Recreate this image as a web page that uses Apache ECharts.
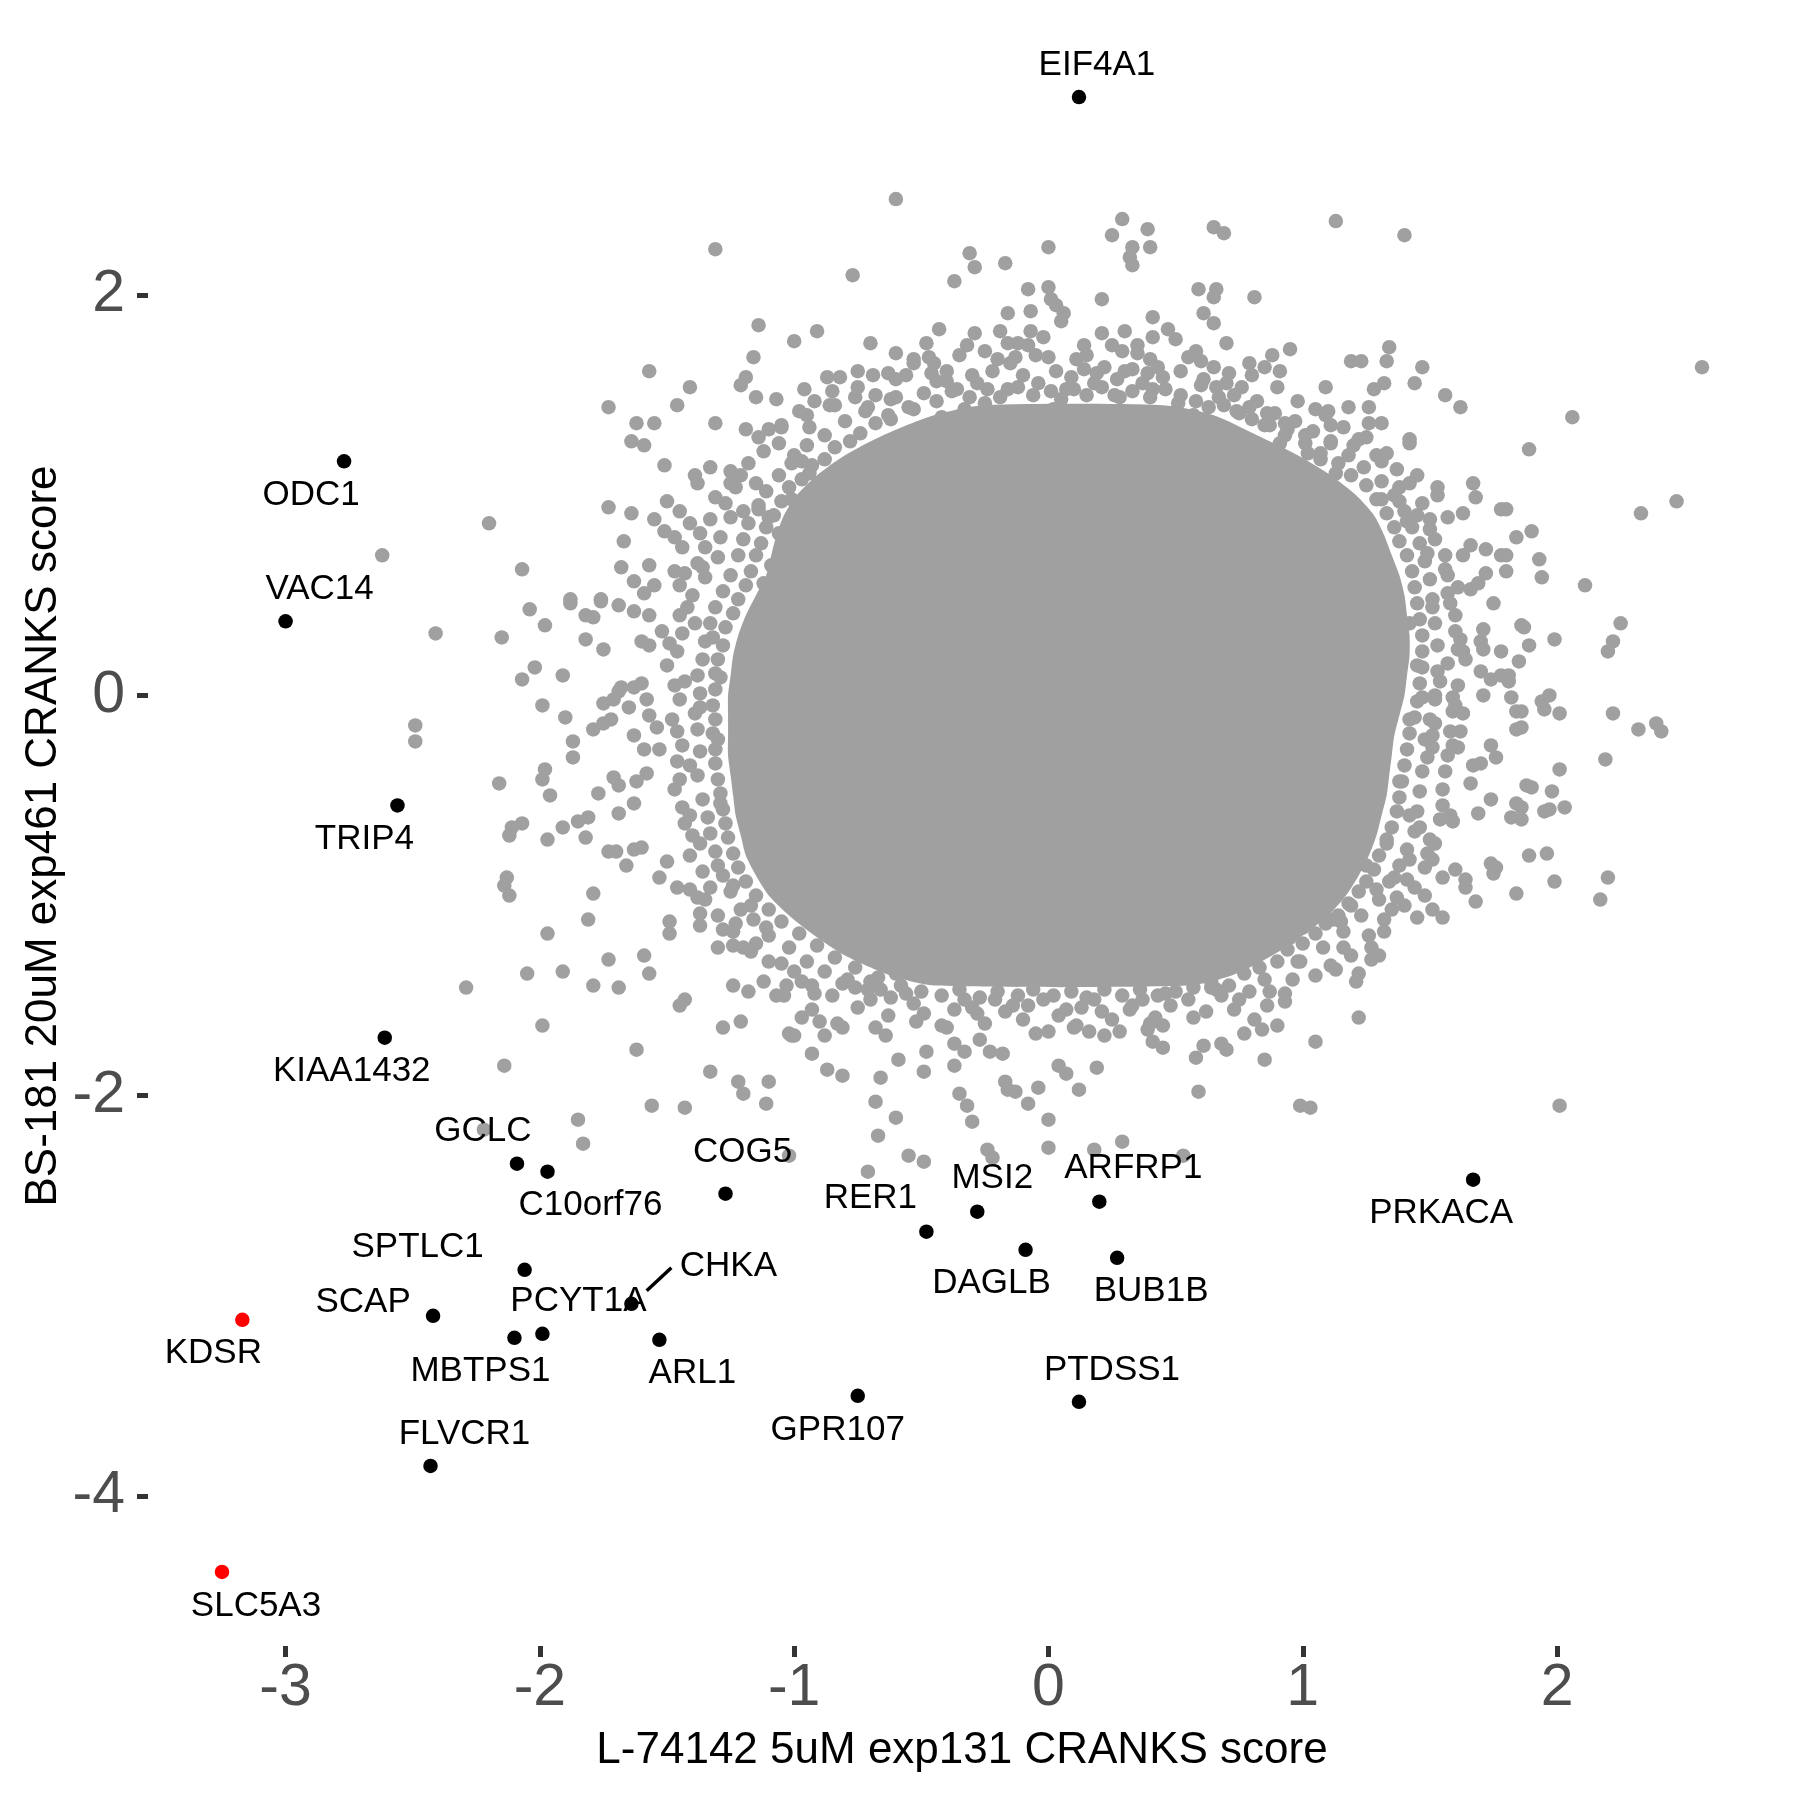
<!DOCTYPE html>
<html>
<head>
<meta charset="utf-8">
<script src="https://cdn.jsdelivr.net/npm/echarts@6/dist/echarts.min.js"></script>
<style>html,body{margin:0;padding:0;background:#fff}#c{width:1800px;height:1800px}</style>
</head>
<body>
<div id="c"></div>
<script>
// ---------- DATA ----------
const xTicks = [-3, -2, -1, 0, 1, 2];
const yTicks = [-4, -2, 0, 2];
const xTitle = 'L-74142 5uM exp131 CRANKS score';
const yTitle = 'BS-181 20uM exp461 CRANKS score';

// dense core outline (y row, left x, right x)
const coreY     = [1.45, 1.4, 1.3, 1.2, 1.1, 1.0, 0.9, 0.8, 0.7, 0.6, 0.5, 0.4, 0.3, 0.2, 0.1, 0.0, -0.1, -0.2, -0.3, -0.4, -0.5, -0.6, -0.7, -0.8, -0.9, -1.0, -1.1, -1.2, -1.3, -1.4, -1.45];
const coreLeft  = [-0.25, -0.45, -0.65, -0.80, -0.91, -0.99, -1.04, -1.07, -1.09, -1.11, -1.15, -1.19, -1.22, -1.24, -1.25, -1.26, -1.26, -1.26, -1.26, -1.25, -1.24, -1.23, -1.21, -1.19, -1.15, -1.10, -1.02, -0.92, -0.80, -0.62, -0.45];
const coreRight = [0.45, 0.65, 0.82, 0.98, 1.11, 1.21, 1.28, 1.32, 1.35, 1.38, 1.40, 1.41, 1.42, 1.42, 1.41, 1.40, 1.38, 1.36, 1.35, 1.34, 1.33, 1.31, 1.29, 1.26, 1.22, 1.17, 1.10, 1.00, 0.88, 0.72, 0.55];

const grayUpper = [
[-0.60,2.48],[-1.31,2.23],[-0.77,2.10],[-0.31,2.21],[-0.29,2.14],[-0.17,2.16],[-0.37,2.07],[0.00,2.24],[0.29,2.38],[0.25,2.30],[0.33,2.24],[0.32,2.19],[0.33,2.15],[-0.08,2.03],[0.00,2.04],[0.01,1.98],[0.03,1.95],[0.06,1.91],[0.05,1.87],[0.21,1.98],[-0.16,1.91],[-0.07,1.92],[-0.07,1.82],[-0.02,1.79],[-0.19,1.82],[-0.16,1.76],[-0.12,1.76],[-0.08,1.75],[-0.29,1.81],[-0.32,1.75],[-0.43,1.83],[-0.48,1.76],[-0.47,1.69],[-0.53,1.68],[-0.60,1.71],[-0.70,1.76],[-0.20,1.68],[-0.13,1.69],[0.00,1.69],[0.14,1.75],[0.11,1.68],[0.21,1.81],[0.25,1.75],[0.30,1.82],[0.22,1.64],[0.14,1.63],
[-1.14,1.85],[-0.91,1.82],[-1.00,1.77],[-1.16,1.69],[-1.19,1.59],[-1.21,1.55],[-1.15,1.49],[-1.07,1.48],[-0.96,1.53],[-0.87,1.59],[-0.82,1.59],[-0.75,1.54],[-0.69,1.60],[-0.63,1.61],[-0.56,1.60],[-0.53,1.66],[-0.40,1.62],[-0.40,1.57],[-0.36,1.53],[-0.46,1.61],[-0.92,1.47],[-0.86,1.45],[-0.84,1.45],[-0.76,1.49],[-0.71,1.44],[-0.68,1.50],
[-1.57,1.62],[-1.41,1.54],[-1.46,1.45],[-1.73,1.44],[-1.31,1.36],[-1.62,1.36],[-1.55,1.36],[-1.64,1.27],[-1.59,1.25],[-1.51,1.15],[-1.39,1.10],[-1.33,1.14],[-1.38,1.06],[-1.25,1.12],[-1.21,1.10],[-1.25,1.06],[-1.15,1.06],[-1.31,0.99],[-1.73,0.94],[-1.64,0.91],[-1.55,0.88],[-1.50,0.97],[-1.45,0.92],[-1.41,0.86],[-1.37,0.81],[-2.20,0.86],[-2.07,0.63],[-1.67,0.77],[-1.68,0.64],[-1.63,0.57],[-1.59,0.51],[-1.55,0.55],[-1.57,0.65],[-1.51,0.82],[-1.47,0.79],[-1.44,0.74],[-1.47,0.62],[-1.43,0.61],[-1.45,0.55],[-1.36,0.64],[-1.35,0.59],[-1.30,0.69],[-1.29,0.79],[-1.25,0.89],[-1.20,0.92],[-1.14,0.93],[-1.10,0.89],[-1.19,1.33],[-1.14,1.29],[-1.10,1.33],[-1.05,1.34],[-1.00,1.20],[-0.97,1.17],[-1.06,1.26],[-0.95,1.40],[-0.94,1.34],[-1.88,0.48],[-1.76,0.48],
[-0.94,1.11],[-1.01,0.98],[-1.06,0.81],[-1.09,0.65],[-1.12,0.56],
[-0.04,1.56],[0.07,1.53],[0.18,1.56],[0.28,1.49],[0.37,1.56],[-0.16,1.53],[-0.25,1.46],[-0.33,1.43],[-0.42,1.39],[-0.53,1.43],[-0.63,1.40],[-0.60,1.49],[-0.28,1.56],[-0.49,1.51],[-0.11,1.39],[0.02,1.43],[0.14,1.39],[0.25,1.41],[0.37,1.39],
[0.39,2.33],[0.40,2.24],[0.65,2.34],[0.69,2.31],[1.13,2.37],[1.40,2.30],[0.59,2.03],[0.66,2.03],[0.65,1.99],[0.81,1.99],[0.61,1.91],[0.65,1.86],[0.41,1.89],[0.47,1.83],[0.50,1.78],[0.41,1.79],[0.35,1.75],[0.29,1.72],
[0.70,1.76],[0.58,1.72],[0.60,1.67],[0.79,1.66],[0.88,1.70],[0.85,1.64],[0.91,1.62],[0.95,1.73],[0.71,1.61],[0.76,1.54],[0.30,1.62],[0.39,1.61],[0.43,1.64],
[1.09,1.54],[1.19,1.67],[1.23,1.67],[1.33,1.67],[1.34,1.74],[1.28,1.53],[1.32,1.56],[1.47,1.64],[1.44,1.56],[1.56,1.50],[1.62,1.44],[2.57,1.64],[2.06,1.39],[1.89,1.23],
[1.05,1.43],[1.09,1.40],[1.11,1.35],[1.18,1.44],[1.26,1.44],[1.31,1.36],[1.26,1.36],[1.01,1.30],[1.11,1.26],[1.20,1.25],[1.22,1.28],[1.29,1.20],[1.31,1.17],[1.42,1.26],[1.42,1.28],
[0.94,1.33],[0.91,1.26],[0.88,1.19],[0.96,1.11],[1.01,1.09],[1.10,1.06],[0.79,1.44],[0.86,1.41],[0.93,1.36],[0.85,1.35],[0.70,1.56],[0.61,1.58],[0.67,1.49],[0.75,1.41],[1.02,1.21],[1.07,1.18],[1.13,1.11],[0.41,1.53],[0.51,1.46],[0.57,1.40]
];

const grayLeft = [
[-2.62,0.70],[-2.41,0.31],[-2.15,0.29],[-2.49,-0.15],[-2.49,-0.23],[-2.16,-0.44],[-2.04,0.43],[-1.98,0.35],
[-1.88,0.46],[-1.82,0.40],[-1.76,0.47],[-1.79,0.39],[-1.82,0.28],[-1.75,0.23],[-1.69,0.45],[-1.63,0.42],
[-1.57,0.40],[-1.52,0.32],[-1.49,0.26],[-1.60,0.27],[-1.57,0.25],[-2.07,0.08],[-2.02,0.14],[-1.91,0.10],
[-1.99,-0.05],[-1.90,-0.11],[-1.87,-0.23],[-1.87,-0.31],[-1.79,-0.17],[-1.75,-0.14],[-1.72,-0.12],[-1.71,-0.02],[-1.75,-0.04],[-1.69,0.02],
[-1.68,0.04],[-1.63,0.04],[-1.60,0.06],[-1.65,-0.06],[-1.58,-0.02],[-1.57,-0.10],[-1.54,-0.16],[-1.53,-0.27],[-1.59,-0.27],[-1.63,-0.20],
[-1.98,-0.37],[-1.99,-0.42],[-1.96,-0.50],[-2.11,-0.66],[-2.07,-0.64],[-2.12,-0.70],[-1.97,-0.72],[-1.91,-0.66],[-1.85,-0.63],[-1.81,-0.61],[-1.82,-0.71],
[-1.77,-0.49],[-1.69,-0.59],[-1.71,-0.41],[-1.69,-0.45],[-1.63,-0.54],[-1.62,-0.43],[-1.58,-0.39],[-1.73,-0.78],[-1.70,-0.78],[-1.63,-0.77],[-1.60,-0.76],[-1.66,-0.85],
[-2.13,-0.91],[-2.14,-0.95],[-2.12,-1.00],[-1.79,-0.99],[-1.81,-1.12],[-1.97,-1.19],[-2.29,-1.46],
[-2.05,-1.39],[-1.91,-1.38],[-1.79,-1.45],[-1.69,-1.46],[-1.73,-1.32],[-1.59,-1.30],[-1.57,-1.39],[-1.99,-1.65],[-2.14,-1.85],[-1.62,-1.77],
[-1.49,-1.13],[-1.49,-1.19],[-1.53,-0.91],[-1.46,-0.96],[-1.41,-0.97],[-1.38,-1.01],[-1.35,-1.02],[-1.45,-1.55],[-1.43,-1.52],[-1.28,-1.66],[-1.21,-1.63],
[-1.33,-1.88],[-1.22,-1.93],[-1.20,-1.99],[-1.10,-1.93],[-1.37,-1.09],[-1.37,-1.15],[-1.30,-1.26],[-1.24,-1.25],[-1.20,-1.26],[-1.17,-1.28],
[-1.24,-1.45],[-1.18,-1.48],[-1.05,-1.34],[-1.03,-1.45],[-1.01,-1.70],
[-1.45,0.40],[-1.39,0.36],[-1.50,0.15],[-1.43,0.07],[-1.37,-0.06],[-1.46,-0.18],[-1.41,-0.35],[-1.47,-0.47],[-1.41,-0.60],[-1.37,-0.74],[-1.30,-0.85],[-1.43,-0.64],[-1.50,-0.83],
[-1.32,0.29],[-1.29,0.09],[-1.30,-0.22],[-1.29,-0.54],[-1.24,-0.95],[-1.17,-1.05],[-1.11,-1.16]
];

const grayLower = [
[-1.11,-2.04],[-1.56,-2.05],[-1.43,-2.06],[-1.85,-2.12],[-1.83,-2.24],[-2.22,-2.17],[-1.02,-2.30],
[-1.28,-1.17],[-1.23,-1.14],[-1.12,-1.43],[-1.07,-1.50],[-1.04,-1.50],[-0.97,-1.43],[-0.92,-1.49],
[-0.97,-1.61],[-0.93,-1.57],[-0.90,-1.63],[-0.83,-1.64],[-0.81,-1.66],[-1.02,-1.69],[-1.00,-1.70],[-0.88,-1.70],
[-0.93,-1.79],[-0.87,-1.87],[-0.81,-1.90],[-0.68,-1.66],[-0.64,-1.70],[-0.70,-1.43],[-0.66,-1.47],[-0.60,-1.39],[-0.56,-1.49],
[-0.59,-1.82],[-0.48,-1.78],[-0.49,-1.88],[-0.66,-1.91],[-0.68,-2.03],[-0.60,-2.11],[-0.67,-2.20],[-0.55,-2.30],[-0.49,-2.33],[-0.71,-2.38],
[-0.37,-1.74],[-0.33,-1.78],[-0.27,-1.72],[-0.23,-1.78],[-0.18,-1.79],[-0.37,-1.85],
[-0.35,-1.99],[-0.32,-2.05],[-0.30,-2.13],[-0.17,-1.93],[-0.16,-1.97],[-0.13,-1.98],[-0.08,-2.04],[-0.04,-1.96],
[0.00,-2.12],[0.00,-2.26],[-0.24,-2.27],[-0.22,-2.31],[0.04,-1.85],[0.07,-1.89],[0.12,-1.97],[0.19,-1.86],[0.18,-2.27],[0.29,-2.23],
[-0.05,-1.69],[0.00,-1.68],[0.11,-1.65],[0.16,-1.68],[0.28,-1.68],
[-0.81,-1.44],[-0.76,-1.46],[-0.70,-1.52],[-0.49,-1.59],[-0.42,-1.65],[-0.37,-1.57],[-0.33,-1.52],[-0.28,-1.59],[-0.21,-1.52],[-0.14,-1.55],[-0.02,-1.52],[0.07,-1.57],[0.18,-1.52],[0.25,-1.62],[0.32,-1.57],[0.37,-1.52],[0.39,-1.67],
[2.01,-2.05],[0.99,-2.05],[1.03,-2.06],[0.59,-1.98],[0.85,-1.82],[0.53,-2.30],[0.58,-1.81],[0.61,-1.75],[0.70,-1.77],[0.68,-1.74],[0.77,-1.69],[0.81,-1.62],[0.84,-1.67],[0.90,-1.65],
[0.93,-1.49],[0.93,-1.53],[0.87,-1.48],[0.75,-1.52],[0.79,-1.48],[0.64,-1.46],[0.66,-1.47],[0.57,-1.61],[0.42,-1.61],[0.40,-1.64],[0.41,-1.73],[0.45,-1.76],
[0.46,-1.49],[0.55,-1.31],[0.72,-1.29],[0.82,-1.24],[0.95,-1.21],[0.87,-1.12],[0.79,-1.09]
];

const grayRight = [
[2.47,0.97],[2.33,0.91],[2.11,0.55],[2.25,0.36],[2.22,0.27],[2.20,0.22],[1.99,0.28],[1.94,0.59],[1.93,0.68],[1.90,0.82],[1.84,0.79],[1.80,0.93],[1.78,0.93],[1.68,0.99],[1.67,1.06],[1.63,0.91],[1.57,0.89],[1.53,1.04],[1.53,1.00],[1.38,1.04],[1.38,0.97],[1.41,0.87],[1.45,0.90],[1.50,0.83],
[1.72,0.73],[1.78,0.70],[1.80,0.70],[1.80,0.62],[1.72,0.61],[1.69,0.56],[1.66,0.53],[1.66,0.75],[1.63,0.70],[1.56,0.63],[1.61,0.54],[1.57,0.51],[1.75,0.46],[1.86,0.35],[1.87,0.34],[1.89,0.25],[1.78,0.22],[1.85,0.17],
[1.71,0.33],[1.70,0.27],[1.71,0.23],[1.60,0.32],[1.61,0.23],[1.63,0.22],[1.57,0.16],[1.70,0.12],[1.74,0.08],[1.78,0.10],[1.81,0.10],[1.81,0.07],[1.71,0.00],[1.82,-0.01],[1.97,0.00],[1.94,-0.03],[1.95,-0.07],[2.01,-0.09],[2.22,-0.09],[2.32,-0.17],[2.39,-0.14],[2.41,-0.18],[2.19,-0.32],[2.01,-0.37],[1.98,-0.48],
[1.95,-0.58],[1.97,-0.57],[2.03,-0.56],[1.88,-0.45],[1.90,-0.46],[1.84,-0.54],[1.86,-0.56],[1.82,-0.61],[1.86,-0.62],[1.74,-0.52],[1.69,-0.59],[1.66,-0.44],[1.67,-0.35],[1.70,-0.34],[1.74,-0.25],[1.76,-0.31],
[1.84,-0.08],[1.86,-0.08],[1.84,-0.17],[1.86,-0.16],[1.59,-0.01],[1.63,-0.09],[1.59,-0.08],[1.62,-0.18],[1.52,-0.02],[1.52,-0.14],[1.51,-0.20],[1.51,-0.26],[1.59,-0.25],[1.61,-0.26],[1.47,-0.01],
[1.55,-0.55],[1.58,-0.60],[1.59,-0.63],[1.46,-0.66],[1.52,-0.74],[1.51,-0.82],[1.49,-0.79],[1.42,-0.82],[1.41,-0.92],[1.55,-0.91],[1.60,-0.87],[1.64,-0.92],[1.64,-0.96],[1.74,-0.84],[1.76,-0.86],[1.75,-0.89],[1.89,-0.80],[1.96,-0.79],[1.99,-0.93],[2.20,-0.91],[2.17,-1.02],[1.84,-0.99],[1.68,-1.03],
[1.48,-1.00],[1.51,-1.07],[1.55,-1.11],[1.45,-1.11],[1.37,-1.01],[1.35,-1.07],[1.32,-1.18],[1.27,-1.26],[1.30,-1.30],[1.27,-1.32],[1.19,-1.30],[1.11,-1.35],[1.13,-1.37],[1.22,-1.39],[1.21,-1.43],[1.22,-1.61],[1.05,-1.73],[1.12,-1.12],[1.15,-1.13],[1.00,-1.16],[0.99,-1.33],
[1.45,1.10],[1.31,0.98],[1.49,0.71],[1.51,0.44],[1.42,0.36],[1.45,0.15],[1.54,0.07],[1.42,-0.12],[1.49,-0.31],[1.38,-0.43],[1.42,-0.60],[1.33,-0.72],[1.36,-0.91],[1.25,-0.85],[1.19,-1.05],[1.07,-1.01],[1.29,-0.97]
];

// densely packed points just outside the solid core (read around its edge)
const grayFringeLeft = [
[-0.44,1.47],[-0.38,1.52],[-0.31,1.49],[-0.24,1.53],[-0.19,1.49],[-0.12,1.54],[-0.06,1.50],[0.01,1.52],[0.05,1.48],[0.10,1.53],[0.15,1.50],[0.21,1.54],[0.26,1.50],[0.33,1.52],[0.40,1.49],[0.46,1.53],[0.52,1.50],[0.58,1.47],[0.63,1.44],[0.69,1.45],
[-0.30,1.60],[-0.22,1.62],[-0.10,1.60],[0.03,1.62],[0.09,1.59],[0.19,1.61],[0.27,1.58],[0.33,1.63],[0.45,1.59],[0.52,1.62],[0.60,1.55],[-0.44,1.57],[-0.15,1.66],[0.40,1.68],
[-0.55,1.44],[-0.62,1.38],[-0.68,1.36],[-0.74,1.31],[-0.78,1.27],[-0.84,1.24],[-0.88,1.18],[-0.93,1.15],[-0.97,1.08],[-1.02,1.04],[-1.05,0.97],[-1.08,0.90],[-1.11,0.84],[-1.13,0.76],[-1.15,0.70],[-1.17,0.62],[-1.19,0.55],[-1.22,0.48],[-1.24,0.41],[-1.27,0.34],[-1.28,0.25],[-1.30,0.18],[-1.31,0.11],[-1.31,0.03],[-1.32,-0.05],[-1.31,-0.12],[-1.32,-0.19],[-1.31,-0.27],[-1.31,-0.34],[-1.30,-0.42],[-1.29,-0.49],[-1.28,-0.57],[-1.27,-0.64],[-1.26,-0.71],[-1.24,-0.79],[-1.22,-0.86],[-1.19,-0.93],[-1.15,-1.00],[-1.10,-1.07],[-1.05,-1.13],[-0.98,-1.19],[-0.91,-1.25],[-0.84,-1.31],[-0.76,-1.36],[-0.67,-1.41],[-0.58,-1.45],[-0.50,-1.48],
[-0.62,1.48],[-0.72,1.42],[-0.80,1.37],[-0.88,1.30],[-0.95,1.25],[-1.01,1.16],[-1.06,1.10],[-1.11,1.02],[-1.14,0.95],[-1.18,0.86],[-1.20,0.78],[-1.22,0.70],[-1.25,0.60],[-1.28,0.52],[-1.31,0.44],[-1.33,0.36],[-1.35,0.27],[-1.36,0.18],[-1.38,0.10],[-1.37,0.01],[-1.39,-0.09],[-1.38,-0.17],[-1.37,-0.28],[-1.38,-0.40],[-1.36,-0.52],[-1.34,-0.61],[-1.33,-0.69],[-1.31,-0.78],[-1.28,-0.90],[-1.25,-0.98],[-1.21,-1.07],[-1.16,-1.12],[-1.10,-1.20],[-1.02,-1.26],[-0.95,-1.33],[-0.88,-1.38],[-0.79,-1.42],[-0.71,-1.47],[-0.62,-1.51],[-0.53,-1.54],
[-0.35,1.70],[-0.25,1.72],[-0.05,1.70],[0.15,1.70],[0.35,1.71],[0.55,1.69],[0.65,1.64],[-0.45,1.66],[-0.60,1.58],[-0.75,1.62],
[-0.85,1.52],[-0.98,1.42],[-1.05,1.35],[-1.12,1.22],[-1.18,1.16],[-1.23,1.04],[-1.27,0.96],[-1.33,0.88],[-1.35,0.74],[-1.38,0.66],[-1.40,0.50],[-1.42,0.44],[-1.44,0.31],[-1.46,0.22],[-1.47,0.05],[-1.45,-0.02],[-1.48,-0.12],[-1.44,-0.25],[-1.46,-0.33],[-1.45,-0.42],[-1.44,-0.56],[-1.40,-0.70],[-1.41,-0.80],[-1.36,-0.88],[-1.33,-0.96],[-1.30,-1.10],[-1.24,-1.18],[-1.15,-1.24],[-1.10,-1.33],[-1.00,-1.38],[-0.93,-1.45],[-0.85,-1.50],[-0.75,-1.56],[-0.63,-1.60],[-0.52,-1.63]
];

const grayFringeRight = [
[-0.42,-1.50],[-0.35,-1.47],[-0.27,-1.51],[-0.20,-1.48],[-0.12,-1.50],[-0.06,-1.47],[0.02,-1.50],[0.09,-1.48],[0.15,-1.51],[0.22,-1.47],[0.29,-1.50],[0.36,-1.47],[0.43,-1.50],[0.50,-1.48],[0.57,-1.46],[0.64,-1.43],[0.71,-1.45],[0.77,-1.39],[0.83,-1.36],[0.90,-1.33],[0.94,-1.27],[1.00,-1.24],[1.05,-1.19],[1.09,-1.14],[1.14,-1.10],[1.18,-1.04],[1.22,-0.98],[1.25,-0.93],[1.28,-0.87],[1.30,-0.80],[1.33,-0.74],[1.35,-0.66],[1.37,-0.58],[1.38,-0.51],[1.39,-0.43],[1.40,-0.35],[1.41,-0.27],[1.42,-0.19],[1.44,-0.11],[1.45,-0.03],[1.46,0.06],[1.47,0.14],[1.47,0.22],[1.47,0.30],[1.46,0.38],[1.45,0.46],[1.44,0.54],[1.43,0.62],[1.41,0.70],[1.38,0.77],[1.36,0.84],[1.33,0.91],[1.29,0.98],[1.25,1.05],[1.19,1.10],[1.14,1.16],[1.07,1.21],[1.01,1.26],[0.93,1.30],[0.87,1.35],[0.80,1.38],[0.74,1.42],
[-0.30,-1.56],[-0.17,-1.58],[-0.08,-1.55],[0.04,-1.60],[0.13,-1.56],[0.21,-1.58],[0.33,-1.55],[0.48,-1.55],[0.55,-1.52],[0.68,-1.50],[0.85,-1.42],[0.98,-1.33],[1.08,-1.26],[1.16,-1.18],[1.23,-1.10],[1.30,-1.02],[1.34,-0.93],[1.38,-0.85],[1.41,-0.77],[1.44,-0.68],[1.45,-0.58],[1.46,-0.48],[1.47,-0.38],[1.48,-0.22],[1.50,-0.12],[1.52,0.00],[1.53,0.12],[1.53,0.25],[1.52,0.36],[1.51,0.48],[1.50,0.58],[1.48,0.67],[1.46,0.76],[1.43,0.84],[1.40,0.92],[1.36,1.00],[1.31,1.07],[1.24,1.14],[1.18,1.20],[1.11,1.27],[1.04,1.32],[0.97,1.37],[0.89,1.41],[0.82,1.47],[0.73,1.50],[0.66,1.54],
[-0.40,-1.66],[-0.25,-1.64],[-0.10,-1.62],[0.10,-1.66],[0.22,-1.70],[0.45,-1.65],[0.62,-1.58],[0.73,-1.57],[0.86,-1.55],[0.96,-1.42],[1.05,-1.40],[1.16,-1.26],[1.26,-1.20],[1.32,-1.12],[1.40,-1.05],[1.44,-0.96],[1.48,-0.86],[1.50,-0.72],[1.54,-0.62],[1.55,-0.47],[1.56,-0.38],[1.57,-0.30],[1.58,-0.18],[1.60,-0.05],[1.61,0.05],[1.64,0.18],[1.62,0.28],[1.60,0.40],[1.58,0.46],[1.57,0.60],[1.56,0.70],[1.52,0.78],[1.50,0.88],[1.47,0.96],[1.42,1.06],[1.37,1.13],[1.33,1.21],[1.25,1.29],[1.16,1.34],[1.10,1.42],[0.98,1.47],[0.90,1.54],[0.80,1.60]
];

// highlighted genes (black) and red genes
const hitNames = ['EIF4A1','ODC1','VAC14','TRIP4','KIAA1432','GCLC','C10orf76','COG5','RER1','MSI2','ARFRP1','DAGLB','BUB1B','PRKACA','SPTLC1','CHKA','SCAP','MBTPS1','PCYT1A','ARL1','GPR107','PTDSS1','FLVCR1'];
const hitX = [0.12,-2.77,-3.00,-2.56,-2.61,-2.09,-1.97,-1.27,-0.48,-0.28,0.20,-0.09,0.27,1.67,-2.06,-1.64,-2.42,-2.10,-1.99,-1.53,-0.75,0.12,-2.43];
const hitY = [2.99,1.17,0.37,-0.55,-1.71,-2.34,-2.38,-2.49,-2.68,-2.58,-2.53,-2.77,-2.81,-2.42,-2.87,-3.04,-3.10,-3.21,-3.19,-3.22,-3.50,-3.53,-3.85];
const redNames = ['KDSR','SLC5A3'];
const redX = [-3.17,-3.25];
const redY = [-3.12,-4.38];
const chkaSegment = [[-1.58,-2.975],[-1.483,-2.86]];

// ---------- LAYOUT (label offsets in px) ----------
const labelOffset = {
  EIF4A1:[18,-32], ODC1:[-33,34], VAC14:[34,-32], TRIP4:[-33,34], KIAA1432:[-33,34],
  GCLC:[-34,-32], C10orf76:[43,34], COG5:[17,-41], RER1:[-56,-33], MSI2:[15,-33],
  ARFRP1:[34,-33], DAGLB:[-34,34], BUB1B:[34,34], PRKACA:[-32,34], SPTLC1:[-107,-22],
  CHKA:[97,-37], SCAP:[-70,-13], MBTPS1:[-34,34], PCYT1A:[36,-32], ARL1:[33,34],
  GPR107:[-20,34], PTDSS1:[33,-32], FLVCR1:[34,-32], KDSR:[-29,34], SLC5A3:[34,34]
};

const FONT = '"Liberation Sans", Arial, Helvetica, sans-serif';
const GRAY = '#A0A0A0';
const grayAll = grayUpper.concat(grayLeft, grayLower, grayRight, grayFringeLeft, grayFringeRight);

function labeled(names, xs, ys) {
  return names.map((n, i) => ({
    value: [xs[i], ys[i]], name: n,
    label: { offset: labelOffset[n] }
  }));
}

const chart = echarts.init(document.getElementById('c'), null, { renderer: 'canvas' });
const axisCommon = {
  type: 'value',
  axisLine: { show: false, onZero: false },
  splitLine: { show: false },
  axisTick: { show: true, length: 11, lineStyle: { color: '#333333', width: 5 } },
  axisLabel: { color: '#4D4D4D', fontSize: 59, fontFamily: FONT }
};
const labelStyle = { show: true, position: 'inside', formatter: '{b}', color: '#000000', opacity: 1, fontSize: 35, fontFamily: FONT, align: 'center', verticalAlign: 'middle' };
chart.setOption({
  animation: false,
  backgroundColor: '#ffffff',
  grid: { left: 148, right: 24, top: 23, bottom: 154, containLabel: false },
  xAxis: Object.assign({}, axisCommon, {
    min: -3.541, max: 2.861,
    axisTick: Object.assign({}, axisCommon.axisTick, { customValues: xTicks }),
    axisLabel: Object.assign({}, axisCommon.axisLabel, { customValues: xTicks, margin: 13 })
  }),
  yAxis: Object.assign({}, axisCommon, {
    min: -4.75, max: 3.36,
    axisTick: Object.assign({}, axisCommon.axisTick, { customValues: yTicks }),
    axisLabel: Object.assign({}, axisCommon.axisLabel, { customValues: yTicks, margin: 23 })
  }),
  graphic: [
    { type: 'text', x: 962, y: 1751, z: 10,
      style: { text: xTitle, fontSize: 44, fontFamily: FONT, fill: '#000', align: 'center', verticalAlign: 'middle' } },
    { type: 'text', x: 44, y: 836, rotation: Math.PI / 2, z: 10,
      style: { text: yTitle, fontSize: 44, fontFamily: FONT, fill: '#000', align: 'center', verticalAlign: 'middle' } }
  ],
  series: [
    {
      type: 'custom', coordinateSystem: 'cartesian2d', silent: true, z: 1,
      data: [[0, 0]],
      renderItem: function (params, api) {
        const pts = [];
        for (let i = 0; i < coreY.length; i++) pts.push(api.coord([coreLeft[i], coreY[i]]));
        for (let i = coreY.length - 1; i >= 0; i--) pts.push(api.coord([coreRight[i], coreY[i]]));
        return { type: 'polygon', shape: { points: pts, smooth: 0.25 }, style: { fill: GRAY } };
      }
    },
    {
      type: 'scatter', silent: true, z: 2, symbol: 'circle', symbolSize: 14.5,
      itemStyle: { color: GRAY, opacity: 1 },
      data: grayAll
    },
    {
      type: 'line', silent: true, z: 3, symbol: 'none',
      lineStyle: { color: '#000', width: 3.5, opacity: 1 },
      data: chkaSegment
    },
    {
      type: 'scatter', silent: true, z: 4, symbol: 'circle', symbolSize: 14.5,
      itemStyle: { color: '#000000', opacity: 1 },
      label: labelStyle,
      data: labeled(hitNames, hitX, hitY)
    },
    {
      type: 'scatter', silent: true, z: 4, symbol: 'circle', symbolSize: 14.5,
      itemStyle: { color: '#FF0000', opacity: 1 },
      label: labelStyle,
      data: labeled(redNames, redX, redY)
    }
  ]
});
</script>
</body>
</html>
